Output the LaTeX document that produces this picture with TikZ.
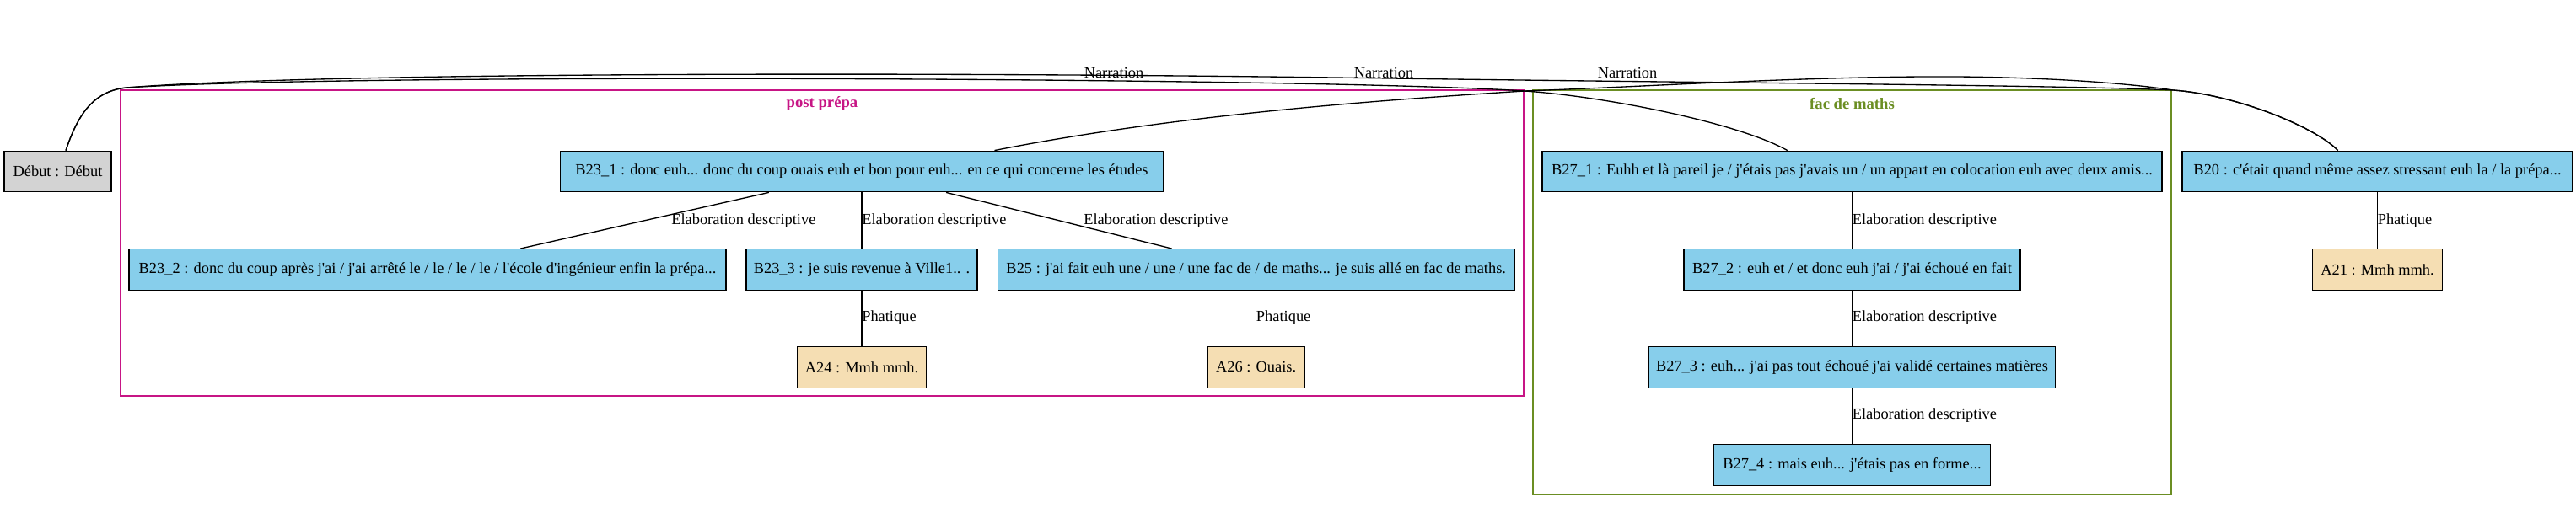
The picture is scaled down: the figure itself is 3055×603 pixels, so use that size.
\documentclass[tikz,border=0pt]{standalone}
\usepackage{fontspec}
\newfontfamily\gv{Liberation Serif}
\definecolor{skyb}{HTML}{87CEEB}
\definecolor{wheatc}{HTML}{F5DEB3}
\definecolor{lgray}{HTML}{D3D3D3}
\definecolor{mvr}{HTML}{C71585}
\definecolor{olived}{HTML}{6B8E23}
\begin{document}
\begin{tikzpicture}[x=0.75pt,y=-0.75pt,
  box/.style={draw=black, line width=1pt, minimum height=36.4pt, inner sep=2pt, font=\gv\fontsize{13.8}{16}\selectfont},
  bnode/.style={box, fill=skyb},
  anode/.style={box, fill=wheatc},
  gnode/.style={box, fill=lgray},
  lab/.style={font=\gv\fontsize{13.8}{16}\selectfont, inner sep=0pt, anchor=west},
  nlab/.style={font=\gv\fontsize{13.8}{16}\selectfont, inner sep=0pt},
  conn/.style={line width=1pt, draw=black},
  clus/.style={line width=1pt},
  clab/.style={font=\gv\bfseries\fontsize{14}{16}\selectfont, inner sep=0pt}]
\useasboundingbox (0,0) rectangle (3055,603);

% clusters
\draw[clus, draw=mvr] (143,107) rectangle (1807,470);
\node[clab, text=mvr] (cl1) at (975,123) {post prépa};
\draw[clus, draw=olived] (1818,107) rectangle (2575,587);
\node[clab, text=olived] (cl2) at (2196.5,123) {fac de maths};

% nodes
\node[gnode, minimum width=95.25pt] (debut) at (68.5,203.5) {Début : Début};
\node[bnode, minimum width=536.25pt] (b231) at (1022,203.5) {B23\_1 : donc euh... donc du coup ouais euh et bon pour euh... en ce qui concerne les études};
\node[bnode, minimum width=531pt] (b232) at (507,320) {B23\_2 : donc du coup après j'ai / j'ai arrêté le / le / le / le / l'école d'ingénieur enfin la prépa...};
\node[bnode, minimum width=205.5pt] (b233) at (1022,320) {B23\_3 : je suis revenue à Ville1.. .};
\node[bnode, minimum width=459.75pt] (b25) at (1489.7,320) {B25 : j'ai fait euh une / une / une fac de / de maths... je suis allé en fac de maths.};
\node[anode, minimum width=114.75pt] (a24) at (1022,436) {A24 : Mmh mmh.};
\node[anode, minimum width=86.25pt] (a26) at (1489.7,436) {A26 : Ouais.};
\node[bnode, minimum width=551.25pt] (b271) at (2196.5,203.5) {B27\_1 : Euhh et là pareil je / j'étais pas j'avais un / un appart en colocation euh avec deux amis...};
\node[bnode, minimum width=299.25pt] (b272) at (2196.5,320) {B27\_2 : euh et / et donc euh j'ai / j'ai échoué en fait};
\node[bnode, minimum width=361.5pt] (b273) at (2196.5,436) {B27\_3 : euh... j'ai pas tout échoué j'ai validé certaines matières};
\node[bnode, minimum width=245.6pt] (b274) at (2196.5,552) {B27\_4 : mais euh... j'étais pas en forme...};
\node[bnode, minimum width=347.25pt] (b20) at (2819.5,203.5) {B20 : c'était quand même assez stressant euh la / la prépa...};
\node[anode, minimum width=115.9pt] (a21) at (2819.5,320) {A21 : Mmh mmh.};

% narration curves
\draw[conn] (debut.69) .. controls (92,137) and (110,108) .. (150,104)
  .. controls (400,84) and (1200,86) .. (1650,93)
  .. controls (2000,98) and (2450,101) .. (2577,107)
  .. controls (2650,112) and (2745,150) .. (b20.152);
\draw[conn] (debut.69) .. controls (92,137) and (110,108) .. (150,104)
  .. controls (400,88) and (1300,92) .. (1650,101.7)
  .. controls (1720,103.6) and (1770,105.5) .. (1808,108)
  .. controls (1900,114) and (2060,145) .. (b271.162);
\draw[conn] (b231.9) .. controls (1400,135) and (1650,118) .. (1808,108)
  .. controls (1950,103) and (2150,90) .. (2320,91)
  .. controls (2450,92) and (2540,101) .. (2577,107)
  .. controls (2650,112) and (2745,150) .. (b20.152);
\node[nlab] (n1) at (1321,86) {Narration};
\node[nlab] (n2) at (1641,86) {Narration};
\node[nlab] (n3) at (1930,86) {Narration};

% straight edges
\draw[conn] (b231) -- (b232);
\draw[conn] (b231) -- (b233);
\draw[conn] (b231) -- (b25);
\draw[conn] (b233) -- (a24);
\draw[conn] (b25) -- (a26);
\draw[conn] (b271) -- (b272);
\draw[conn] (b272) -- (b273);
\draw[conn] (b273) -- (b274);
\draw[conn] (b20) -- (a21);

% edge labels
\node[lab] (l1) at (796,262) {Elaboration descriptive};
\node[lab] (l2) at (1022,262) {Elaboration descriptive};
\node[lab] (l3) at (1285,262) {Elaboration descriptive};
\node[lab] (l4) at (1022,377) {Phatique};
\node[lab] (l5) at (1489.7,377) {Phatique};
\node[lab] (l6) at (2196.5,262) {Elaboration descriptive};
\node[lab] (l7) at (2196.5,377) {Elaboration descriptive};
\node[lab] (l8) at (2196.5,493) {Elaboration descriptive};
\node[lab] (l9) at (2819.5,262) {Phatique};
\end{tikzpicture}
\end{document}
